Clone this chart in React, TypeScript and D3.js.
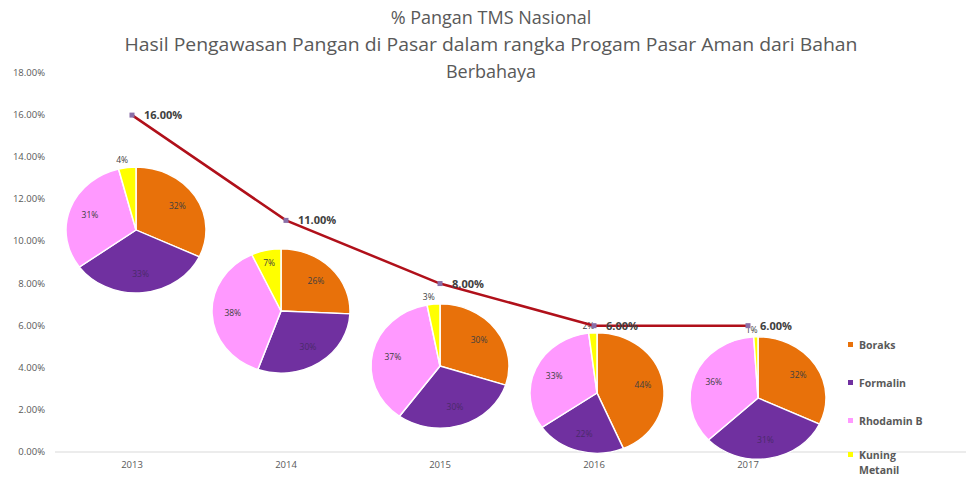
import React from "react";
import * as d3 from "d3";

const years = ["2013", "2014", "2015", "2016", "2017"];
const tmsPercent = [16, 11, 8, 6, 6];
const yTicks = [0, 2, 4, 6, 8, 10, 12, 14, 16, 18];
const substances = ["Boraks", "Formalin", "Rhodamin B", "Kuning Metanil"];
const boraks = [32, 26, 30, 44, 32];
const formalin = [33, 30, 30, 22, 31];
const rhodaminB = [31, 38, 37, 33, 36];
const kuningMetanil = [4, 7, 3, 2, 1];

const titleLines = [
  "% Pangan TMS Nasional",
  "Hasil Pengawasan Pangan di Pasar dalam rangka Progam Pasar Aman dari Bahan",
  "Berbahaya",
];

// layout (not data): pie centre offsets from the category centre, and radii
const pieLayout = [
  { dx: 4, cy: 230, r: 70 },
  { dx: -5, cy: 311, r: 69 },
  { dx: 0, cy: 366, r: 69 },
  { dx: 3, cy: 393, r: 67 },
  { dx: 10, cy: 398, r: 68 },
];

const colors = ["#E8710A", "#7030A0", "#FF99FF", "#FFFF00"];
const FONT = "'Open Sans', 'Noto Sans', sans-serif";
const W = 966;
const H = 480;

export default function App() {
  const x = d3.scaleBand<string>().domain(years).range([55, 825]);
  const y = d3.scaleLinear().domain([0, 18]).range([452, 73]);
  const line = d3
    .line<number>()
    .x((_, i) => (x(years[i]) as number) + x.bandwidth() / 2)
    .y((d) => y(d));
  const pie = d3.pie<number>().sort(null).value((d) => d);
  const ys = 0.9;

  return (
    <svg width={W} height={H} style={{ position: "absolute", left: 0, top: 0, background: "#fff" }}>
      <rect width={W} height={H} fill="#fff" />
      {titleLines.map((t, i) => (
        <text
          key={i}
          x={491}
          y={24 + i * 27}
          textAnchor="middle"
          fontFamily={FONT}
          fontSize={18}
          fill="#595959"
          textLength={i === 1 ? 733 : undefined}
          lengthAdjust="spacingAndGlyphs"
        >
          {t}
        </text>
      ))}
      {yTicks.map((t) => (
        <text
          key={t}
          x={45}
          y={y(t) + 3}
          textAnchor="end"
          fontFamily={FONT}
          fontSize={9.5}
          fill="#595959"
        >
          {t.toFixed(2)}%
        </text>
      ))}
      <line x1={55} x2={W} y1={y(0)} y2={y(0)} stroke="#d9d9d9" strokeWidth={1} />
      {years.map((yr) => (
        <text
          key={yr}
          x={(x(yr) as number) + x.bandwidth() / 2}
          y={468}
          textAnchor="middle"
          fontFamily={FONT}
          fontSize={9.5}
          fill="#595959"
        >
          {yr}
        </text>
      ))}
      {years.map((yr, i) => {
        const vals = [boraks[i], formalin[i], rhodaminB[i], kuningMetanil[i]];
        const L = pieLayout[i];
        const cx = (x(yr) as number) + x.bandwidth() / 2 + L.dx;
        const arcs = pie(vals);
        const arc = d3.arc<d3.PieArcDatum<number>>().innerRadius(0).outerRadius(L.r);
        return (
          <g key={yr} transform={`translate(${cx},${L.cy})`}>
            <g transform={`scale(1,${ys})`}>
              {arcs.map((a, j) => (
                <path key={j} d={arc(a) as string} fill={colors[j]} stroke="#fff" strokeWidth={1.5} />
              ))}
            </g>
            {arcs.map((a, j) => {
              const mid = (a.startAngle + a.endAngle) / 2;
              const small = a.value < 5;
              const rr = small ? L.r * 1.12 : j === 3 ? L.r * 0.8 : L.r * 0.7;
              const lx = Math.sin(mid) * rr - (small ? 4 : 0);
              const ly = -Math.cos(mid) * rr * ys;
              return (
                <text
                  key={j}
                  x={lx}
                  y={ly + 3}
                  textAnchor="middle"
                  fontFamily={FONT}
                  fontSize={8.5}
                  fill={j === 1 ? "#4a2a6a" : "#404040"}
                >
                  {a.value}%
                </text>
              );
            })}
          </g>
        );
      })}
      <path d={line(tmsPercent) as string} fill="none" stroke="#B0101A" strokeWidth={2.5} />
      {tmsPercent.map((v, i) => {
        const px = (x(years[i]) as number) + x.bandwidth() / 2;
        return (
          <g key={i}>
            <rect x={px - 2.5} y={y(v) - 2.5} width={5} height={5} fill="#8a6fa8" />
            <text
              x={px + 12}
              y={y(v) + 4}
              fontFamily={FONT}
              fontSize={11}
              fontWeight="bold"
              fill="#404040"
            >
              {v.toFixed(2)}%
            </text>
          </g>
        );
      })}
      {substances.map((s, i) => {
        const ly = [345, 383, 421, 455][i];
        const parts = s === "Kuning Metanil" ? ["Kuning", "Metanil"] : [s];
        return (
          <g key={s}>
            <rect x={848} y={ly - 3} width={5} height={5} fill={colors[i]} />
            {parts.map((p, k) => (
              <text
                key={k}
                x={859}
                y={ly + 4 + k * 15}
                fontFamily={FONT}
                fontSize={10.5}
                fontWeight="bold"
                fill="#595959"
              >
                {p}
              </text>
            ))}
          </g>
        );
      })}
    </svg>
  );
}
